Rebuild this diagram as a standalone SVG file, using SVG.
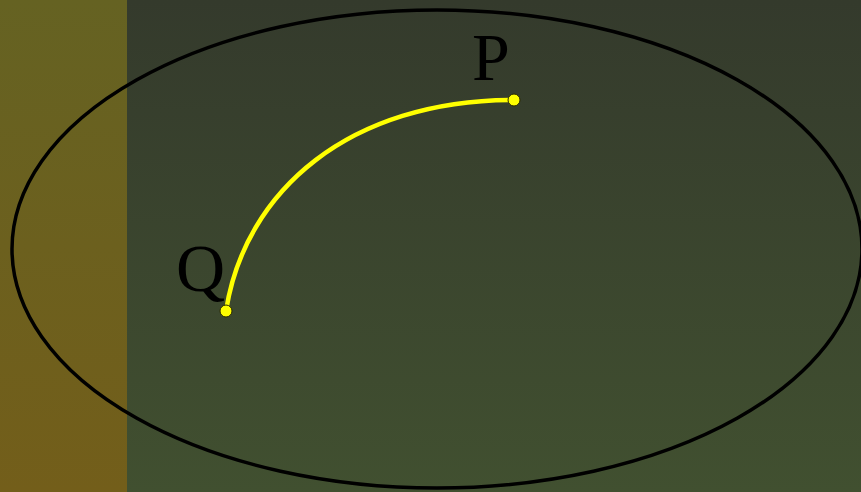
<svg xmlns="http://www.w3.org/2000/svg" width="861" height="492" viewBox="0 0 861 492">
<defs>
<linearGradient id="bg" x1="0" y1="0" x2="0" y2="1">
<stop offset="0" stop-color="#343a2c"/>
<stop offset="1" stop-color="#415030"/>
</linearGradient>
<linearGradient id="strip" x1="0" y1="0" x2="0" y2="1">
<stop offset="0" stop-color="#656222"/>
<stop offset="1" stop-color="#735e1a"/>
</linearGradient>
</defs>
<style>
.lbl{font-family:"Liberation Serif","Times New Roman",serif;font-size:68px;fill:#000}
.pt{fill:#ffff00;stroke:#2a2a00;stroke-width:1}
</style>
<rect x="0" y="0" width="861" height="492" fill="url(#bg)"/>
<rect x="0" y="0" width="127" height="492" fill="url(#strip)"/>
<g id="boundary">
<ellipse cx="437" cy="249" rx="425" ry="239" fill="none" stroke="#000" stroke-width="3.5"/>
</g>
<g id="connectors">
<path d="M226 311 C245 190 350 100 514 100" fill="none" stroke="#ffff00" stroke-width="4.5"/>
</g>
<g id="P">
<circle class="pt" cx="514" cy="100" r="6"/>
<text class="lbl" x="472" y="80">P</text>
</g>
<g id="Q">
<circle class="pt" cx="226" cy="311" r="6"/>
<text class="lbl" x="176" y="291">Q</text>
</g>
</svg>
